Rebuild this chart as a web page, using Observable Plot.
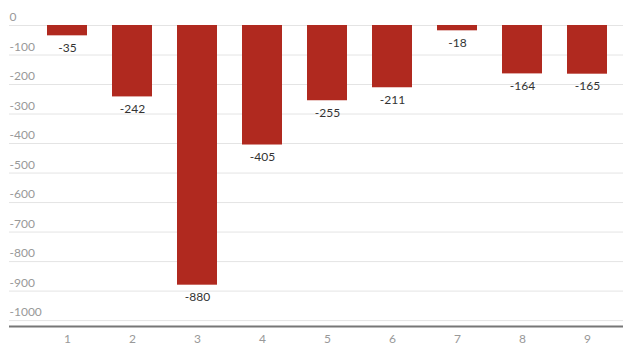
<!DOCTYPE html>
<html><head><meta charset="utf-8">
<script src="https://cdn.jsdelivr.net/npm/d3@7"></script>
<script src="https://cdn.jsdelivr.net/npm/@observablehq/plot@0.6"></script>
<style>body{margin:0;background:#fff}</style>
</head><body><div id="chart"></div>
<script>
const categories = ["1","2","3","4","5","6","7","8","9"];
const values = [-35,-242,-880,-405,-255,-211,-18,-164,-165];
const yTicks = [0,-100,-200,-300,-400,-500,-600,-700,-800,-900,-1000];
const data = categories.map((c,i)=>({cat:c, value:values[i]}));
const font = "Lato, 'Open Sans', sans-serif";
const chart = Plot.plot({
  width: 630, height: 357,
  marginTop: 25, marginBottom: 31, marginLeft: 9, marginRight: 7,
  style: {fontFamily: font, background: "#fff"},
  x: {domain: categories, range: [32.5, 622], paddingInner: 0.39, paddingOuter: 0.195, label: null},
  y: {domain: [-1020, 0], label: null, axis: null},
  marks: [
    Plot.ruleY(yTicks, {stroke: "#e4e4e4", strokeWidth: 1}),
    Plot.barY(data, {x: "cat", y: "value", fill: "#b0291f"}),
    Plot.text(data, {x: "cat", y: "value", text: d => String(d.value), dy: 12, fontSize: 12, fill: "#333"}),
    Plot.text(yTicks, {y: d => d, text: d => String(d), frameAnchor: "left", textAnchor: "start", dy: -8, fontSize: 12, fill: "#999"}),
    Plot.axisX({tickSize: 0, tickPadding: 8, fontSize: 12, fill: "#999", label: null}),
    Plot.ruleY([-1020], {stroke: "#777", strokeWidth: 2})
  ]
});
document.getElementById("chart").append(chart);
</script></body></html>
